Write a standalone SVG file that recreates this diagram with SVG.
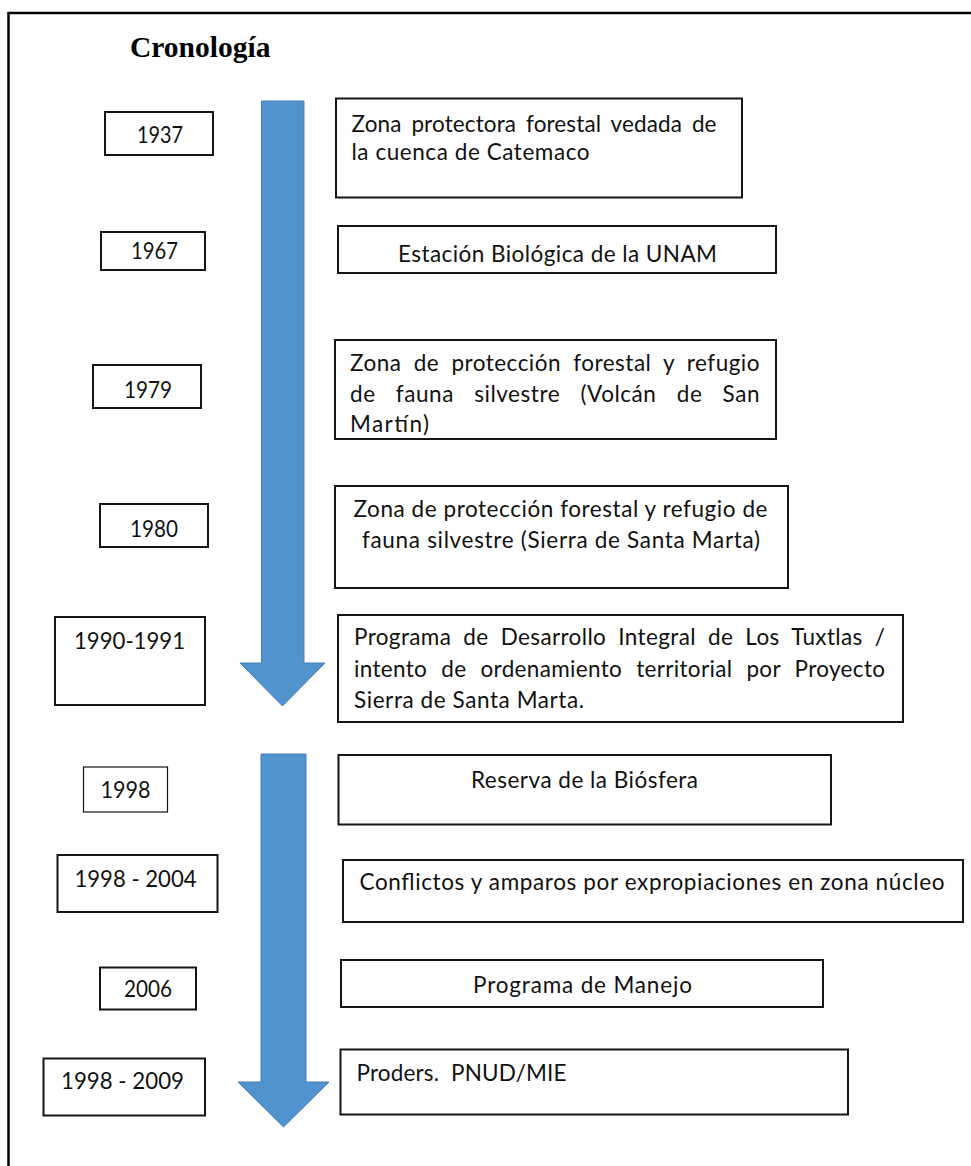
<svg xmlns="http://www.w3.org/2000/svg" width="971" height="1166" viewBox="0 0 971 1166">
  <style>
    .frame { fill: none; stroke: #000; stroke-width: 2.5; }
    .box { fill: #fff; stroke: #151515; stroke-width: 2; }
    .box-thin { fill: #fff; stroke: #151515; stroke-width: 1.2; }
    .txt { font-family: Lato, "Open Sans", "Liberation Sans", sans-serif; font-size: 22.5px; fill: #111; }
    .mid { text-anchor: middle; }
    .title { font-family: "Liberation Serif", "Times New Roman", serif; font-size: 29.5px; font-weight: bold; fill: #000; }
    .arrow { fill: #5093cf; stroke: #4a7db5; stroke-width: 1; }
  </style>

  <rect width="971" height="1166" fill="#fff"/>

  <!-- page frame (top and left edges) -->
  <path class="frame" d="M8.5,1166 V13 H971"/>

  <text id="title" class="title" x="130" y="57">Cronología</text>

  <!-- timeline arrows -->
  <g id="connectors">
    <polygon class="arrow" points="261.5,101 304,101 304,663 325,663 282.5,706 240,663 261.5,663"/>
    <polygon class="arrow" points="261,754 306,754 306,1082 329,1082 283.5,1127 238,1082 261,1082"/>
  </g>

  <!-- years -->
  <g id="year-1937">
    <rect class="box" x="105" y="112" width="108" height="43"/>
    <text class="txt mid" x="160" y="143" textLength="46" lengthAdjust="spacingAndGlyphs">1937</text>
  </g>
  <g id="year-1967">
    <rect class="box" x="101" y="232" width="104" height="38"/>
    <text class="txt mid" x="154.5" y="259" textLength="47" lengthAdjust="spacingAndGlyphs">1967</text>
  </g>
  <g id="year-1979">
    <rect class="box" x="93" y="365" width="108" height="43"/>
    <text class="txt mid" x="148" y="398" textLength="48" lengthAdjust="spacingAndGlyphs">1979</text>
  </g>
  <g id="year-1980">
    <rect class="box" x="100" y="504" width="108" height="43"/>
    <text class="txt mid" x="154" y="537" textLength="48" lengthAdjust="spacingAndGlyphs">1980</text>
  </g>
  <g id="year-1990-1991">
    <rect class="box" x="55" y="617" width="150" height="88"/>
    <text class="txt mid" x="129.5" y="649" textLength="111" lengthAdjust="spacingAndGlyphs">1990-1991</text>
  </g>
  <g id="year-1998">
    <rect class="box-thin" x="83.5" y="767" width="84" height="45"/>
    <text class="txt mid" x="125.5" y="798" textLength="50" lengthAdjust="spacingAndGlyphs">1998</text>
  </g>
  <g id="year-1998-2004">
    <rect class="box" x="57.5" y="855" width="160" height="57"/>
    <text class="txt mid" x="135.5" y="887" textLength="122" lengthAdjust="spacingAndGlyphs">1998 - 2004</text>
  </g>
  <g id="year-2006">
    <rect class="box" x="100" y="967.5" width="96" height="42"/>
    <text class="txt mid" x="148" y="997" textLength="48" lengthAdjust="spacingAndGlyphs">2006</text>
  </g>
  <g id="year-1998-2009">
    <rect class="box" x="43.5" y="1058.5" width="161.5" height="57"/>
    <text class="txt mid" x="122.5" y="1089" textLength="123" lengthAdjust="spacingAndGlyphs">1998 - 2009</text>
  </g>

  <!-- events; justified lines widen their word gaps first, then fit to the column -->
  <g id="event-zona-catemaco">
    <rect class="box" x="336" y="98.5" width="406" height="99"/>
    <text class="txt" x="351.5" y="131.5" word-spacing="4" textLength="365" lengthAdjust="spacing">Zona protectora forestal vedada de</text>
    <text class="txt" x="351.5" y="160" textLength="238" lengthAdjust="spacing">la cuenca de Catemaco</text>
  </g>
  <g id="event-estacion-unam">
    <rect class="box" x="338" y="226" width="438" height="47"/>
    <text class="txt mid" x="557.5" y="261.5" textLength="319" lengthAdjust="spacing">Estación Biológica de la UNAM</text>
  </g>
  <g id="event-volcan-san-martin">
    <rect class="box" x="335" y="340" width="441" height="99"/>
    <text class="txt" x="350" y="370.5" word-spacing="6" textLength="409.5" lengthAdjust="spacing">Zona de protección forestal y refugio</text>
    <text class="txt" x="350" y="401.5" word-spacing="14" textLength="409.5" lengthAdjust="spacing">de fauna silvestre (Volcán de San</text>
    <text class="txt" x="350" y="431.5" textLength="79" lengthAdjust="spacing">Martín)</text>
  </g>
  <g id="event-sierra-santa-marta">
    <rect class="box" x="335" y="486" width="453" height="102"/>
    <text class="txt mid" x="560.5" y="517" textLength="414" lengthAdjust="spacing">Zona de protección forestal y refugio de</text>
    <text class="txt mid" x="561" y="548" textLength="398" lengthAdjust="spacing">fauna silvestre (Sierra de Santa Marta)</text>
  </g>
  <g id="event-programa-tuxtlas">
    <rect class="box" x="338" y="615" width="565" height="107"/>
    <text class="txt" x="354" y="645" word-spacing="6" textLength="531" lengthAdjust="spacing">Programa de Desarrollo Integral de Los Tuxtlas /</text>
    <text class="txt" x="354" y="676.5" word-spacing="8" textLength="531" lengthAdjust="spacing">intento de ordenamiento territorial por Proyecto</text>
    <text class="txt" x="354" y="708" textLength="230" lengthAdjust="spacing">Sierra de Santa Marta.</text>
  </g>
  <g id="event-reserva-biosfera">
    <rect class="box" x="338.5" y="755" width="492.5" height="69.5"/>
    <text class="txt mid" x="584.5" y="787.5" textLength="227" lengthAdjust="spacing">Reserva de la Biósfera</text>
  </g>
  <g id="event-conflictos">
    <rect class="box" x="343" y="860" width="620" height="62"/>
    <text class="txt mid" x="652" y="890" textLength="585" lengthAdjust="spacing">Conflictos y amparos por expropiaciones en zona núcleo</text>
  </g>
  <g id="event-programa-manejo">
    <rect class="box" x="341" y="960" width="482" height="47"/>
    <text class="txt mid" x="582.5" y="992.5" textLength="219" lengthAdjust="spacing">Programa de Manejo</text>
  </g>
  <g id="event-proders">
    <rect class="box" x="340.5" y="1049.5" width="507.5" height="65"/>
    <text class="txt" x="356.5" y="1080.5" textLength="210" lengthAdjust="spacing" xml:space="preserve">Proders.  PNUD/MIE</text>
  </g>
</svg>
